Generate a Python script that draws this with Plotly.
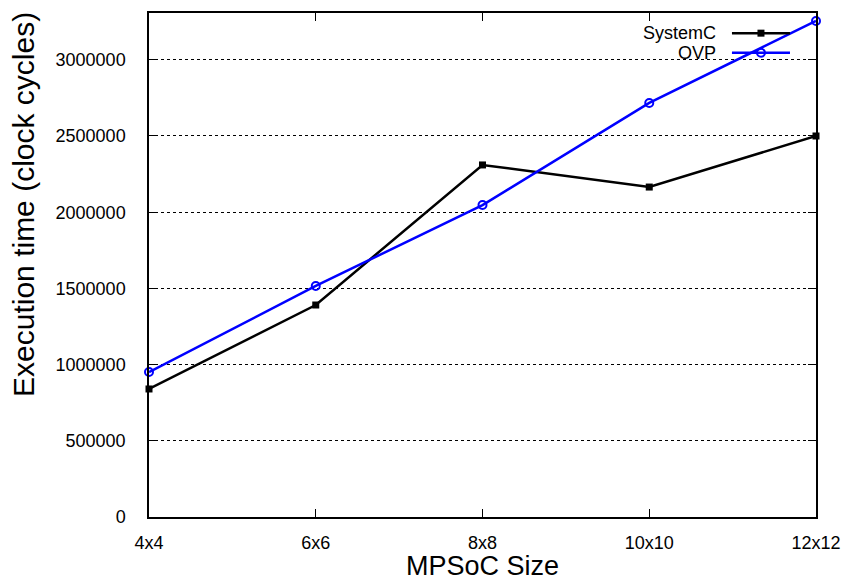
import plotly.graph_objects as go

categories = ["4x4", "6x6", "8x8", "10x10", "12x12"]
systemc = [840000, 1391000, 2310000, 2165000, 2500000]
ovp = [951000, 1516000, 2047000, 2717000, 3255000]
y_ticks = [0, 500000, 1000000, 1500000, 2000000, 2500000, 3000000]
series_names = ["SystemC", "OVP"]

FONT = "Liberation Sans, Arial, sans-serif"
BLUE = "rgb(0,0,255)"

fig = go.Figure()
fig.add_trace(go.Scatter(
    x=list(range(len(categories))), y=systemc, mode="lines+markers", name=series_names[0],
    line=dict(color="black", width=2.5),
    marker=dict(symbol="square", size=7, color="black"),
    showlegend=False, cliponaxis=False))
fig.add_trace(go.Scatter(
    x=list(range(len(categories))), y=ovp, mode="lines+markers", name=series_names[1],
    line=dict(color=BLUE, width=2.5),
    marker=dict(symbol="circle-open", size=8, color=BLUE, line=dict(width=2)),
    showlegend=False, cliponaxis=False))

# gnuplot-style key (text left, sample right) drawn on an overlay axis in [0,1]
key_y = [0.960, 0.921]
key_styles = [
    dict(line=dict(color="black", width=2.5), marker=dict(symbol="square", size=7, color="black")),
    dict(line=dict(color=BLUE, width=2.5), marker=dict(symbol="circle-open", size=8, color=BLUE, line=dict(width=2))),
]
for name, ky, st in zip(series_names, key_y, key_styles):
    fig.add_trace(go.Scatter(x=[0.874, 0.961], y=[ky, ky], mode="lines", line=st["line"],
                             xaxis="x2", yaxis="y2", showlegend=False, hoverinfo="skip"))
    fig.add_trace(go.Scatter(x=[0.9175], y=[ky], mode="markers", marker=st["marker"],
                             xaxis="x2", yaxis="y2", showlegend=False, hoverinfo="skip"))
    fig.add_annotation(x=0.853, y=ky, xref="paper", yref="paper", text=name, showarrow=False,
                       xanchor="right", yanchor="middle", font=dict(size=18, color="black", family=FONT))

# y-axis title (gnuplot places it slightly above centre)
fig.add_annotation(x=-0.189, y=0.621, xref="paper", yref="paper", text="Execution time (clock cycles)",
                   textangle=-90, showarrow=False, xanchor="center", yanchor="middle",
                   font=dict(size=30, color="black", family=FONT))
# x-axis title at the bottom edge
fig.add_annotation(x=0.5, y=-0.129, xref="paper", yref="paper", text="MPSoC Size",
                   showarrow=False, xanchor="center", yanchor="bottom", borderpad=0,
                   font=dict(size=27, color="black", family=FONT))

fig.update_layout(
    width=845, height=582,
    margin=dict(l=149, r=29, t=13, b=65, autoexpand=False),
    paper_bgcolor="white", plot_bgcolor="white",
    font=dict(family=FONT, color="black", size=18),
    xaxis=dict(
        tickmode="array", tickvals=list(range(len(categories))), ticktext=categories,
        range=[0, len(categories) - 1], showgrid=False, zeroline=False, automargin=False,
        showline=True, linecolor="black", linewidth=1.5, mirror="ticks",
        ticks="inside", ticklen=8, tickcolor="black", ticklabelstandoff=9,
        tickfont=dict(size=18),
    ),
    yaxis=dict(
        range=[0, 3307000], tickmode="array", tickvals=y_ticks, tickformat="d",
        showgrid=True, gridcolor="black", griddash="dot", gridwidth=1, zeroline=False, automargin=False,
        showline=True, linecolor="black", linewidth=1.5, mirror="ticks",
        ticks="inside", ticklen=8, tickcolor="black", ticklabelstandoff=18,
        tickfont=dict(size=18),
    ),
    xaxis2=dict(overlaying="x", range=[0, 1], visible=False, anchor="y2"),
    yaxis2=dict(overlaying="y", range=[0, 1], visible=False, anchor="x2"),
)

fig.write_html("out.html", config={"displayModeBar": False},
               post_script="document.body.style.margin='0';document.body.style.overflow='hidden';")
